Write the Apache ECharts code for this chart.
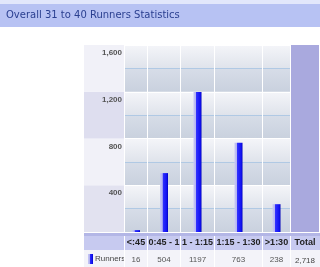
<!DOCTYPE html>
<html><head><meta charset="utf-8">
<script src="https://cdn.jsdelivr.net/npm/echarts@6/dist/echarts.min.js"></script>
<style>html,body{margin:0;padding:0;background:#fff}#c{width:320px;height:267px}</style>
</head><body><div id="c"></div>
<script>
// ---- data ----
const titleText = 'Overall 31 to 40 Runners Statistics';
const categories = ['<:45', '0:45 - 1', '1 - 1:15', '1:15 - 1:30', '>1:30'];
const runners = [16, 504, 1197, 763, 238];
const seriesName = 'Runners';
const yTicks = [0, 400, 800, 1200, 1600];

// ---- layout (pixels, styles only) ----
const colLeft = [125, 148, 181, 215, 263];
const colWidth = [22, 32, 33, 47, 27];
const plotTop = 45, plotBottom = 232;
const totalX = 291, totalW = 28;
const labelX = 84, labelW = 40;

const total = runners.reduce((a, b) => a + b, 0);
const fmt = n => n.toLocaleString('en-US');

const bandGrad = new echarts.graphic.LinearGradient(0, 0, 0, 1, [
  {offset: 0, color: '#f4f5f9'}, {offset: 0.5, color: '#dfe3eb'},
  {offset: 0.5, color: '#d7dde8'}, {offset: 1, color: '#c9d1de'}]);
const barGrad = new echarts.graphic.LinearGradient(0, 0, 1, 0, [
  {offset: 0, color: '#c8c8f6'}, {offset: 0.3, color: '#b4b4f0'},
  {offset: 0.36, color: '#3030ff'}, {offset: 0.85, color: '#1010f0'}, {offset: 1, color: '#0000b8'}]);

const grids = [], xAxes = [], yAxes = [], series = [];
// label column grid
grids.push({left: labelX, top: plotTop, width: labelW, height: plotBottom - plotTop});
xAxes.push({gridIndex: 0, type: 'category', data: [''], show: false});
yAxes.push({gridIndex: 0, type: 'value', min: yTicks[0], max: yTicks[yTicks.length - 1], interval: yTicks[1] - yTicks[0],
  position: 'right', axisLine: {show: false}, axisTick: {show: false}, splitLine: {show: false},
  splitArea: {show: true, areaStyle: {color: ['#e2e2f0', '#f1f1f8', '#dedeef', '#f1f1f8']}},
  axisLabel: {inside: true, margin: 2, showMinLabel: false, verticalAlign: 'top', padding: [4, 0, 0, 0],
    fontSize: 8, fontWeight: 'bold', color: '#555', fontFamily: 'Liberation Sans, Arial',
    formatter: v => fmt(v)}});

categories.forEach((c, i) => {
  const g = i + 1;
  grids.push({left: colLeft[i], top: plotTop, width: colWidth[i], height: plotBottom - plotTop});
  xAxes.push({gridIndex: g, type: 'category', data: [c], position: 'bottom',
    axisLine: {show: false}, axisTick: {show: false},
    axisLabel: {margin: 6, fontSize: 9, fontWeight: 'bold', color: '#222', fontFamily: 'Liberation Sans, Arial'}});
  xAxes.push({gridIndex: g, type: 'category', data: [String(runners[i])], position: 'bottom',
    axisLine: {show: false}, axisTick: {show: false},
    axisLabel: {margin: 24, fontSize: 8, color: '#555', fontFamily: 'Liberation Sans, Arial'}});
  yAxes.push({gridIndex: g, type: 'value', min: yTicks[0], max: yTicks[yTicks.length - 1], interval: yTicks[1] - yTicks[0],
    axisLine: {show: false}, axisTick: {show: false}, axisLabel: {show: false},
    splitLine: {show: true, lineStyle: {color: '#ffffff', width: 1}},
    minorTick: {show: false, splitNumber: 2},
    minorSplitLine: {show: true, lineStyle: {color: '#b0c9e4', width: 1}},
    splitArea: {show: true, areaStyle: {color: [bandGrad]}}});
  series.push({type: 'bar', name: seriesName, xAxisIndex: xAxes.length - 2, yAxisIndex: g,
    data: [runners[i]], barWidth: 8, itemStyle: {color: barGrad}, silent: true, animation: false});
});

const graphics = [
  {type: 'rect', shape: {x: 0, y: 0, width: 320, height: 4}, style: {fill: '#e2e7fb'}},
  {type: 'rect', shape: {x: 0, y: 4, width: 320, height: 23}, style: {fill: '#b7c2f3'}},
  // total column
  {type: 'rect', shape: {x: totalX, y: plotTop, width: totalW, height: plotBottom - plotTop}, style: {fill: '#a9a9de'}},
  // header row
  {type: 'rect', shape: {x: labelX, y: plotBottom + 1, width: 320 - labelX, height: 3}, style: {fill: '#b3b6e6'}},
  {type: 'rect', shape: {x: labelX, y: plotBottom + 4, width: 320 - labelX, height: 14}, style: {fill: '#c7caf0'}},
  {type: 'rect', shape: {x: labelX, y: plotBottom + 18, width: 320 - labelX, height: 17}, style: {fill: '#f3f3f9'}},
  // legend swatch
  {type: 'rect', shape: {x: 88, y: plotBottom + 22, width: 5, height: 10}, style: {fill: barGrad}},
  {type: 'text', x: 95, y: plotBottom + 27, style: {text: seriesName, fontSize: 8, fill: '#444', fontFamily: 'Liberation Sans, Arial', verticalAlign: 'middle'}},
  {type: 'text', x: totalX + totalW / 2, y: plotBottom + 11, style: {text: 'Total', fontSize: 9, fontWeight: 'bold', fill: '#222', fontFamily: 'Liberation Sans, Arial', align: 'center', verticalAlign: 'middle'}},
  {type: 'text', x: totalX + totalW / 2, y: plotBottom + 29, style: {text: fmt(total), fontSize: 8, fill: '#444', fontFamily: 'Liberation Sans, Arial', align: 'center', verticalAlign: 'middle'}}
];
// column separators in table rows
colLeft.concat([totalX]).forEach(x => {
  graphics.push({type: 'rect', shape: {x: x - 1, y: plotBottom + 4, width: 1, height: 31}, style: {fill: '#ffffff'}});
});

const chart = echarts.init(document.getElementById('c'), null, {renderer: 'canvas'});
chart.setOption({
  animation: false,
  title: {text: titleText, left: 1, top: 5, textStyle: {fontSize: 10, fontWeight: 'normal', color: '#2a3f90', fontFamily: 'DejaVu Sans, Verdana'}},
  grid: grids, xAxis: xAxes, yAxis: yAxes, series: series,
  graphic: graphics.map(g => Object.assign({z: -1}, g))
});
</script></body></html>
